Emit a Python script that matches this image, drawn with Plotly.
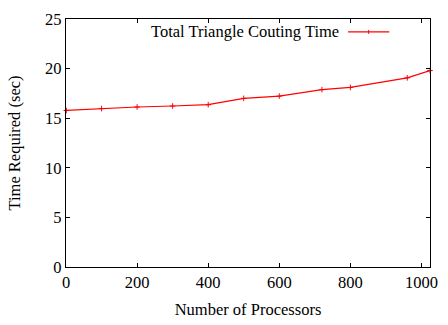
import plotly.graph_objects as go

# Processor counts and the measured total triangle counting time
processors = [1, 100, 200, 300, 400, 500, 600, 720, 800, 960, 1024]
time_sec = [15.78, 15.97, 16.13, 16.23, 16.36, 17.0, 17.23, 17.88, 18.1, 19.07, 19.8]
series_name = "Total Triangle Couting Time"

x_ticks = [0, 200, 400, 600, 800, 1000]
y_ticks = [0, 5, 10, 15, 20, 25]

FONT = "Liberation Serif"
FS = 16.5
RED = "#ff0000"

fig = go.Figure()
fig.add_trace(go.Scatter(
    x=processors, y=time_sec, mode="lines+markers", name=series_name,
    line=dict(color=RED, width=1.2),
    marker=dict(symbol="cross-thin", size=4, line=dict(color=RED, width=1)),
    showlegend=False, cliponaxis=False,
))

axis_common = dict(
    showgrid=False, zeroline=False, showline=True, linecolor="black", linewidth=1.2,
    mirror="ticks", ticks="inside", ticklen=4, tickwidth=1, tickcolor="black",
    tickfont=dict(family=FONT, size=FS, color="black"),
)

fig.update_layout(
    width=448, height=325,
    margin=dict(l=66, r=10, t=10, b=56),
    paper_bgcolor="white", plot_bgcolor="white",
    font=dict(family=FONT, size=FS, color="black"),
    xaxis=dict(range=[0, 1024], tickvals=x_ticks,
               title=dict(text="Number of Processors", standoff=12,
                          font=dict(family=FONT, size=FS)),
               **axis_common),
    yaxis=dict(range=[0, 25], tickvals=y_ticks,
               title=dict(text="Time Required (sec)", standoff=20,
                          font=dict(family=FONT, size=FS)),
               **axis_common),
)

# Key: label text followed by a short line sample with a marker
fig.add_annotation(xref="paper", yref="paper", x=0.228, y=0.948,
                   text=series_name, showarrow=False, xanchor="left", yanchor="middle",
                   font=dict(family=FONT, size=FS, color="black"))
x0, x1 = 0.775, 0.888
ym = 0.948
fig.add_shape(type="line", xref="paper", yref="paper", x0=x0, x1=x1, y0=ym, y1=ym,
              line=dict(color=RED, width=1.2))
fig.add_shape(type="line", xref="paper", yref="paper", x0=(x0 + x1) / 2, x1=(x0 + x1) / 2,
              y0=ym - 0.008, y1=ym + 0.008, line=dict(color=RED, width=1))

fig.write_html("out.html")
